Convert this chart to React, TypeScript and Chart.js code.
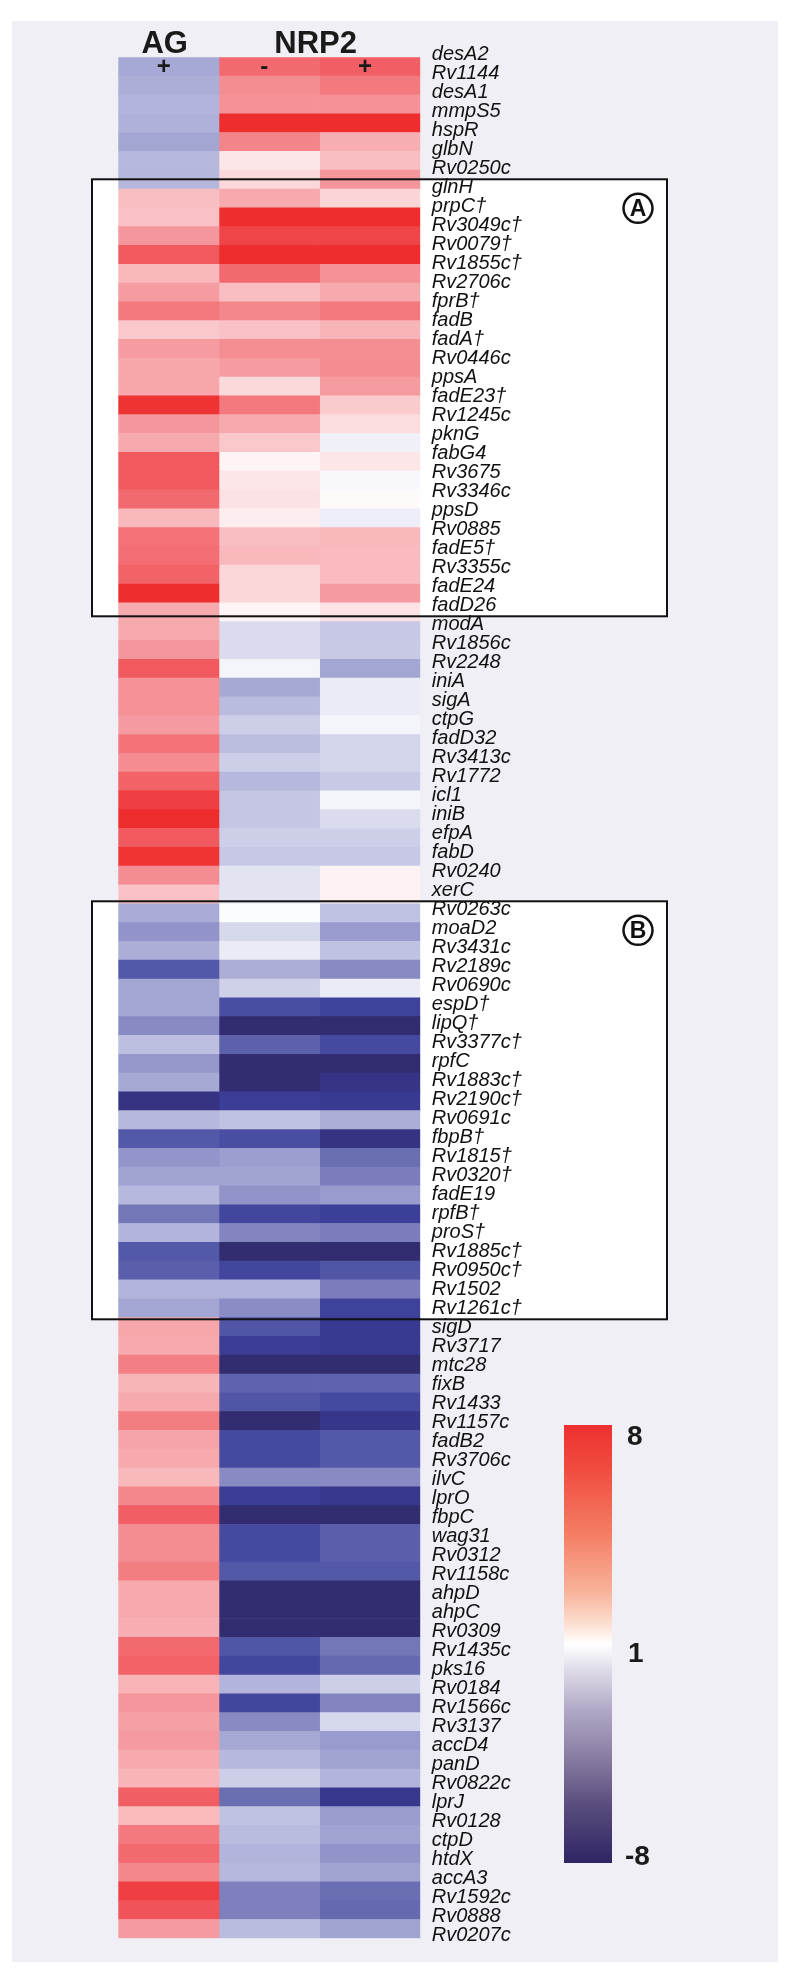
import { useEffect, useRef } from 'react';
import { Chart, registerables } from 'chart.js';

Chart.register(...registerables);

const genes = [
  'desA2', 'Rv1144', 'desA1', 'mmpS5', 'hspR', 'glbN', 'Rv0250c', 'glnH', 'prpC†', 'Rv3049c†',
  'Rv0079†', 'Rv1855c†', 'Rv2706c', 'fprB†', 'fadB', 'fadA†', 'Rv0446c', 'ppsA', 'fadE23†', 'Rv1245c',
  'pknG', 'fabG4', 'Rv3675', 'Rv3346c', 'ppsD', 'Rv0885', 'fadE5†', 'Rv3355c', 'fadE24', 'fadD26',
  'modA', 'Rv1856c', 'Rv2248', 'iniA', 'sigA', 'ctpG', 'fadD32', 'Rv3413c', 'Rv1772', 'icl1',
  'iniB', 'efpA', 'fabD', 'Rv0240', 'xerC', 'Rv0263c', 'moaD2', 'Rv3431c', 'Rv2189c', 'Rv0690c',
  'espD†', 'lipQ†', 'Rv3377c†', 'rpfC', 'Rv1883c†', 'Rv2190c†', 'Rv0691c', 'fbpB†', 'Rv1815†', 'Rv0320†',
  'fadE19', 'rpfB†', 'proS†', 'Rv1885c†', 'Rv0950c†', 'Rv1502', 'Rv1261c†', 'sigD', 'Rv3717', 'mtc28',
  'fixB', 'Rv1433', 'Rv1157c', 'fadB2', 'Rv3706c', 'ilvC', 'lprO', 'fbpC', 'wag31', 'Rv0312',
  'Rv1158c', 'ahpD', 'ahpC', 'Rv0309', 'Rv1435c', 'pks16', 'Rv0184', 'Rv1566c', 'Rv3137', 'accD4',
  'panD', 'Rv0822c', 'lprJ', 'Rv0128', 'ctpD', 'htdX', 'accA3', 'Rv1592c', 'Rv0888', 'Rv0207c',
];

// fold change (positive = up, negative = down), legend 8 .. 1 .. -8
const agPlus = [
  -3.3, -3.1, -2.9, -3.0, -3.4, -2.75, -2.8, 3.1, 3.0, 4.5,
  6.6, 3.3, 4.3, 5.55, 2.8, 4.3, 3.95, 3.95, 7.85, 4.5,
  3.8, 6.6, 6.6, 6.05, 3.3, 5.75, 5.9, 6.3, 8, 3.8,
  3.8, 4.5, 6.6, 4.7, 4.7, 4.35, 5.75, 4.9, 6.3, 7.5,
  8, 6.6, 7.8, 4.85, 3.0, -3.2, -3.95, -3.1, -5.9, -3.4,
  -3.4, -4.2, -2.5, -3.8, -3.25, -7.65, -2.75, -5.9, -3.9, -3.45,
  -2.75, -4.9, -2.9, -5.9, -5.7, -2.9, -3.4, 3.95, 3.8, 5.35,
  3.4, 3.8, 5.4, 4.0, 3.8, 3.3, 5.05, 6.45, 4.85, 4.85,
  5.4, 3.8, 3.8, 3.7, 6.05, 6.3, 3.5, 4.5, 4.15, 4.35,
  3.8, 3.45, 6.45, 3.25, 5.55, 6.05, 5.05, 7.45, 6.8, 4.35,
];

const nrp2Minus = [
  6.05, 4.85, 4.65, 8, 5.2, 1.7, 2.25, 3.8, 8, 7.3,
  8, 6.05, 3.1, 5.05, 3.0, 4.8, 4.3, 2.2, 5.55, 3.8,
  2.8, 1.3, 1.7, 1.85, 1.5, 3.1, 3.3, 2.3, 2.3, 1.3,
  -1.7, -1.7, -1.2, -3.25, -2.6, -2.05, -2.55, -2.05, -2.75, -2.3,
  -2.3, -2.05, -2.25, -1.55, -1.55, -1.07, -1.8, -1.4, -3.1, -2.0,
  -6.4, -8, -5.6, -8, -8, -7.15, -2.4, -6.4, -3.6, -3.45,
  -3.95, -6.75, -4.35, -8, -6.75, -2.9, -4.15, -6.05, -7.2, -8,
  -5.55, -6.05, -8, -6.6, -6.6, -4.2, -7.2, -8, -6.6, -6.6,
  -5.9, -8, -8, -8, -6.05, -6.75, -2.9, -6.75, -4.2, -3.25,
  -2.75, -2.05, -5.2, -2.4, -2.6, -2.9, -2.75, -4.5, -4.5, -2.6,
];

const nrp2Plus = [
  6.45, 5.55, 4.65, 8, 3.65, 3.1, 4.5, 2.4, 8, 7.3,
  8, 4.65, 3.8, 5.55, 3.45, 4.8, 4.9, 4.3, 2.7, 2.05,
  -1.3, 1.7, -1.14, 1.14, -1.35, 3.3, 3.2, 3.2, 4.35, 1.85,
  -2.25, -2.2, -3.4, -1.4, -1.4, -1.2, -1.9, -1.9, -2.2, -1.2,
  -1.7, -2.05, -2.25, 1.35, 1.4, -2.4, -3.7, -2.4, -4.2, -1.4,
  -6.95, -8, -6.6, -8, -7.6, -7.35, -3.1, -7.65, -5.2, -4.65,
  -3.7, -7.1, -4.65, -8, -6.05, -4.65, -6.95, -7.35, -7.35, -8,
  -5.55, -6.6, -7.5, -5.9, -5.9, -4.2, -7.45, -8, -5.7, -5.7,
  -5.9, -8, -8, -8, -4.9, -5.35, -2.05, -4.35, -1.8, -3.7,
  -3.45, -2.9, -7.45, -3.65, -3.45, -3.95, -3.45, -5.2, -5.35, -3.45,
];

const columns = ['AG +', 'NRP2 -', 'NRP2 +'];
const columnSigns = ['+', '-', '+'];
const groupTitles = [
  { text: 'AG', from: 0, to: 1 },
  { text: 'NRP2', from: 1, to: 3 },
];
const legendTicks = ['8', '1', '-8'];
const boxes = [
  { letter: 'A', first: 'glnH', last: 'fadD26' },
  { letter: 'B', first: 'Rv0263c', last: 'Rv1261c†' },
];

const redStops = [
  [255, 255, 255], [252, 230, 232], [251, 212, 214], [249, 190, 194], [247, 170, 174],
  [245, 150, 156], [243, 132, 136], [243, 110, 116], [240, 90, 94], [239, 68, 72], [238, 46, 46],
];
const blueStops = [
  [255, 255, 255], [218, 220, 238], [192, 194, 226], [172, 174, 216], [150, 152, 204],
  [126, 128, 190], [106, 110, 178], [84, 88, 168], [69, 74, 160], [56, 58, 148], [50, 44, 112],
];

function colorFor(v: number): string {
  const t = Math.min(1, Math.max(0, (Math.abs(v) - 1) / 7));
  const stops = v >= 0 ? redStops : blueStops;
  const p = t * 10;
  const i = Math.min(9, Math.floor(p));
  const f = p - i;
  const a = stops[i];
  const b = stops[i + 1];
  const c = a.map((x, k) => Math.round(x + (b[k] - x) * f));
  return `rgb(${c[0]},${c[1]},${c[2]})`;
}

const W = 800;
const H = 1983;
const PANEL = { left: 12, top: 21, right: 778, bottom: 1962 };
const BOX_LEFT = 92;
const BOX_RIGHT = 667;
const LEGEND = { left: 564, right: 612, top: 1425, bottom: 1863 };
const FONT = '"Liberation Sans", Arial, Helvetica, sans-serif';

function boxRect(chart: any, b: { first: string; last: string }) {
  const yl = chart.scales.yl;
  const i0 = genes.indexOf(b.first);
  const i1 = genes.indexOf(b.last);
  const top = yl.getPixelForValue(i0 - 0.5) - 1.5;
  const bottom = yl.getPixelForValue(i1 + 0.5) - 1.5;
  return { top, bottom };
}

const decor = {
  id: 'decor',
  beforeDraw(chart: any) {
    const ctx = chart.ctx;
    ctx.save();
    ctx.fillStyle = '#ffffff';
    ctx.fillRect(0, 0, W, H);
    ctx.fillStyle = 'rgb(239,239,245)';
    ctx.fillRect(PANEL.left, PANEL.top, PANEL.right - PANEL.left, PANEL.bottom - PANEL.top);
    ctx.fillStyle = '#ffffff';
    boxes.forEach((b) => {
      const r = boxRect(chart, b);
      ctx.fillRect(BOX_LEFT, r.top, BOX_RIGHT - BOX_LEFT, r.bottom - r.top);
    });
    ctx.restore();
  },
  afterDatasetsDraw(chart: any) {
    const ctx = chart.ctx;
    const x = chart.scales.x;
    const y = chart.scales.y;
    ctx.save();
    // boxes
    ctx.strokeStyle = '#111';
    boxes.forEach((b) => {
      const r = boxRect(chart, b);
      ctx.lineWidth = 2;
      ctx.strokeRect(BOX_LEFT, r.top, BOX_RIGHT - BOX_LEFT, r.bottom - r.top);
      const cx = BOX_RIGHT - 29;
      const cy = r.top + 29;
      ctx.lineWidth = 2.5;
      ctx.beginPath();
      ctx.arc(cx, cy, 14.5, 0, Math.PI * 2);
      ctx.stroke();
      ctx.fillStyle = '#111';
      ctx.font = `bold 23px ${FONT}`;
      ctx.textAlign = 'center';
      ctx.textBaseline = 'middle';
      ctx.fillText(b.letter, cx, cy + 1);
    });
    // titles
    ctx.fillStyle = '#1a1a1a';
    ctx.font = `bold 31px ${FONT}`;
    ctx.textAlign = 'center';
    ctx.textBaseline = 'alphabetic';
    groupTitles.forEach((g) => {
      const cx = (x.getPixelForValue(g.from) + x.getPixelForValue(g.to)) / 2 - 4;
      ctx.fillText(g.text, cx, 52.5);
    });
    // signs in first row
    ctx.font = `bold 24px ${FONT}`;
    ctx.textBaseline = 'middle';
    const rowY = y.getPixelForValue(0);
    columnSigns.forEach((s, c) => {
      ctx.fillText(s, x.getPixelForValue(c + 0.5) - 5, rowY + 1);
    });
    // legend
    const g = ctx.createLinearGradient(0, LEGEND.top, 0, LEGEND.bottom);
    g.addColorStop(0, '#ee3030');
    g.addColorStop(0.1, '#f04c3e');
    g.addColorStop(0.25, '#f47e64');
    g.addColorStop(0.38, '#f8b29a');
    g.addColorStop(0.45, '#fcdccc');
    g.addColorStop(0.5, '#ffffff');
    g.addColorStop(0.56, '#dedbe8');
    g.addColorStop(0.65, '#b1a9c7');
    g.addColorStop(0.75, '#8c80a5');
    g.addColorStop(0.86, '#5d5080');
    g.addColorStop(1, '#2e2462');
    ctx.fillStyle = g;
    ctx.fillRect(LEGEND.left, LEGEND.top, LEGEND.right - LEGEND.left, LEGEND.bottom - LEGEND.top);
    ctx.fillStyle = '#1a1a1a';
    ctx.font = `bold 28px ${FONT}`;
    ctx.textAlign = 'left';
    ctx.textBaseline = 'alphabetic';
    const mid = (LEGEND.top + LEGEND.bottom) / 2;
    ctx.fillText(legendTicks[0], 627, LEGEND.top + 20);
    ctx.fillText(legendTicks[1], 628, mid + 18);
    ctx.fillText(legendTicks[2], 625, LEGEND.bottom + 2);
    ctx.restore();
  },
};

export default function App() {
  const ref = useRef<HTMLCanvasElement | null>(null);
  useEffect(() => {
    if (!ref.current) return;
    const series = [agPlus, nrp2Minus, nrp2Plus];
    const chart = new Chart(ref.current, {
      type: 'bar',
      data: {
        labels: genes,
        datasets: series.map((vals, c) => ({
          label: columns[c],
          data: vals.map(() => [c, c + 1]),
          backgroundColor: vals.map(colorFor),
          borderWidth: 0,
          barPercentage: 1,
          categoryPercentage: 1,
          grouped: false,
          xAxisID: 'x',
          yAxisID: 'y',
        })),
      } as any,
      options: {
        indexAxis: 'y',
        responsive: false,
        animation: false,
        devicePixelRatio: 1,
        layout: { padding: { left: 118.3, top: 57.3, bottom: H - 1938.3, right: 0 } },
        plugins: { legend: { display: false }, tooltip: { enabled: false } },
        scales: {
          x: { type: 'linear', min: 0, max: 3, display: false },
          y: { type: 'category', display: false, offset: true },
          yl: {
            type: 'category',
            axis: 'y',
            labels: genes,
            position: 'right',
            offset: false,
            grid: { display: false, drawTicks: false },
            border: { display: false },
            ticks: {
              autoSkip: false,
              padding: 11.5,
              labelOffset: -3,
              color: '#111',
              font: { family: FONT, style: 'italic', size: 20 },
            },
            afterFit: (s: any) => {
              s.width = W - 420.3;
            },
          },
        },
      } as any,
      plugins: [decor],
    });
    return () => chart.destroy();
  }, []);
  return (
    <canvas
      ref={ref}
      width={W}
      height={H}
      style={{ position: 'absolute', left: 0, top: 0, width: W, height: H }}
    />
  );
}
